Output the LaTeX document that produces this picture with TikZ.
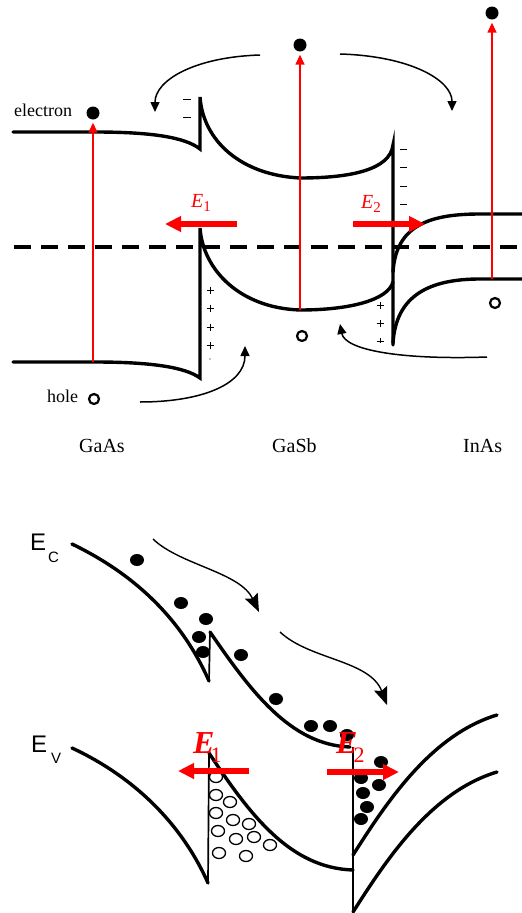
\documentclass[tikz,border=0pt]{standalone}
\usepackage{fontspec}
\setmainfont{Liberation Serif}
\newfontfamily\arialfont{Liberation Sans}
\usetikzlibrary{arrows.meta}
\definecolor{fieldred}{HTML}{FF0000}
\newcommand{\fs}[1]{\fontsize{#1}{#1}\selectfont}

\begin{document}
\begin{tikzpicture}[x=1pt,y=-1pt,
  band/.style={line width=3.4pt,line cap=round},
  wall/.style={line width=1.7pt},
  charge/.style={line width=1pt},
  exc/.style={fieldred,line width=1.5pt,-{Triangle[length=10pt,width=9pt]},shorten >=3pt},
  efield/.style={fieldred,line width=6pt,-{Triangle[length=16pt,width=15pt]}},
  flow/.style={line width=1.5pt,-{Triangle[length=10pt,width=9pt]}},
  drift/.style={line width=1.4pt,-{Stealth[length=18pt,width=14pt,inset=3pt]}},
  elec/.style={circle,fill,inner sep=0pt,minimum size=13pt},
  hole/.style={circle,draw,line width=2.2pt,inner sep=0pt,minimum size=10pt},
  lbl/.style={inner sep=0pt,anchor=base west}]
  \useasboundingbox (0,0) rectangle (522,913);

  % upper panel: GaAs / GaSb / InAs
  \draw[line width=3.4pt,dash pattern=on 17pt off 10pt] (14,247) -- (522,247);
  \draw[band] (13,132) -- (95,132) .. controls (150,132) and (185,137) .. (200,149) -- (200,97)
    .. controls (203,140) and (240,175) .. (300,178) .. controls (350,178) and (390,170) .. (393,145) -- (393,345);
  \draw[band] (13,362) -- (95,362) .. controls (150,362) and (185,367) .. (200,378) -- (200,228)
    .. controls (203,270) and (240,308) .. (300,310) .. controls (350,310) and (388,300) .. (393,282);
  \draw[band] (393,272) .. controls (396,225) and (430,214) .. (480,214) -- (525,214);
  \draw[band] (393,343) .. controls (396,295) and (430,279) .. (480,279) -- (525,279);

  \foreach \y in {99,117} \draw[charge] (183,\y) -- (191,\y);
  \foreach \y in {149,167,186,204} \draw[charge] (400,\y) -- (407,\y);
  \foreach \y in {290,308,327,345} {
    \draw[charge] (206.5,\y) -- (213.5,\y);
    \draw[charge] (210,\y-3.5) -- (210,\y+3.5);
  }
  \fill (210,359) circle (0.6pt);
  \foreach \y in {305,323} {
    \draw[charge] (376.5,\y) -- (383.5,\y);
    \draw[charge] (380,\y-3.5) -- (380,\y+3.5);
  }
  \draw[charge] (376.5,341) -- (383.5,341) (380,338) -- (380,343);

  \node[elec] (eGaAs) at (93,113) {};
  \node[elec] (eGaSb) at (300,45) {};
  \node[elec] (eInAs) at (492,13) {};
  \node[hole] (hGaAs) at (94,399) {};
  \node[hole] (hGaSb) at (302,336) {};
  \node[hole] (hInAs) at (495,303) {};
  \coordinate (vGaAs) at (93,362);
  \coordinate (vGaSb) at (300,310);
  \coordinate (vInAs) at (492,279);
  \draw[exc] (vGaAs) -- (eGaAs);
  \draw[exc] (vGaSb) -- (eGaSb);
  \draw[exc] (vInAs) -- (eInAs);

  \draw[flow] (260,55) .. controls (195,57) and (155,80) .. (155,112);
  \draw[flow] (340,54) .. controls (410,56) and (452,80) .. (452,111);
  \draw[flow] (140,402) .. controls (200,402) and (245,385) .. (245,346);
  \draw[flow] (487,357) .. controls (400,360) and (345,350) .. (340,324);

  \draw[efield] (237,224) -- (165,224);
  \draw[efield] (353,224) -- (425,224);
  \node[lbl,fieldred] (fieldA) at (191,207) {\fs{20}\textit{E}\raisebox{-4pt}{\fs{15}1}};
  \node[lbl,fieldred] (fieldB) at (361,208) {\fs{20}\textit{E}\raisebox{-4pt}{\fs{15}2}};

  \node[lbl] (lblElectron) at (14,116) {\fs{18}electron};
  \node[lbl] (lblHole) at (47,402) {\fs{18}hole};
  \node[lbl] (lblGaAs) at (79,452) {\fs{20}GaAs};
  \node[lbl] (lblGaSb) at (272,452) {\fs{20}GaSb};
  \node[lbl] (lblInAs) at (463,452) {\fs{20}InAs};

  % lower panel: band bending with carriers
  \draw[band] (72,544) .. controls (130,572) and (180,615) .. (209,681);
  \draw[wall] (209,681) -- (210,632);
  \draw[band] (210,632) .. controls (250,690) and (290,745) .. (350,747);
  \draw[band] (72,748) .. controls (130,775) and (180,820) .. (208,883);
  \draw[wall] (208,883) -- (209,753);
  \draw[band] (209,753) .. controls (250,815) and (290,868) .. (353,870);
  \draw[wall] (353,747) -- (353,912);
  \draw[band] (353,855) .. controls (385,805) and (430,735) .. (497,715);
  \draw[band] (353,912) .. controls (385,862) and (430,792) .. (497,772);

  \draw[drift] (153,539) .. controls (180,565) and (240,572) .. (259,612);
  \draw[drift] (280,632) .. controls (310,660) and (370,660) .. (387,705);

  \foreach \x/\y in {137/560,181/603,206/619,199/637,203/652,241/655,276/699,311/726,
      330/726,347/735,381/762,361/778,379/785,363/793,367/807,361/819}
    \fill (\x,\y) ellipse (7pt and 6pt);
  \foreach \x/\y in {216/777,216/795,230/802,216/813,233/820,249/824,218/831,236/839,
      254/837,270/845,219/853,246/856}
    \draw[line width=1.3pt] (\x,\y) ellipse (6.5pt and 5.5pt);

  \draw[efield,line width=5.5pt] (249,771) -- (178,771);
  \draw[efield,line width=5.5pt] (327,772) -- (399,772);
  \node[lbl,fieldred] (fieldC) at (193,753) {\fs{32}\textbf{\textit{E}}\kern-4pt\raisebox{-9pt}{\fs{22}1}};
  \node[lbl,fieldred] (fieldD) at (336,753) {\fs{32}\textbf{\textit{E}}\kern-4pt\raisebox{-9pt}{\fs{22}2}};

  \node[lbl] (lblEc) at (30,550) {\arialfont\fs{24}E\hspace{2pt}\raisebox{-12pt}{\fs{15}C}};
  \node[lbl] (lblEv) at (31,752) {\arialfont\fs{24}E\hspace{4pt}\raisebox{-11pt}{\fs{15}V}};
\end{tikzpicture}
\end{document}
